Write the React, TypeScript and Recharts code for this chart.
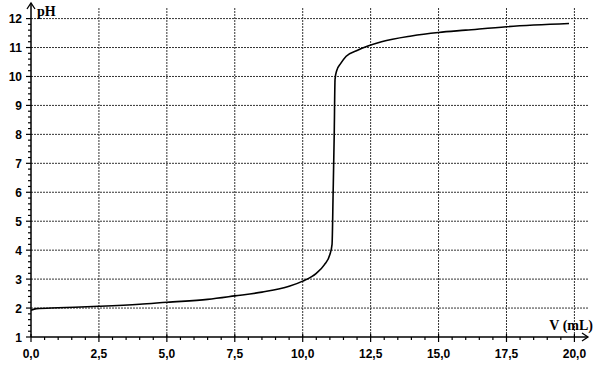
import React from "react"
import { LineChart, Line, XAxis, YAxis, ReferenceLine } from "recharts"

// titration curve
const volume = [0, 0.2, 1, 2.5, 4, 5, 6.5, 7.5, 8.5, 9.5, 10, 10.5, 10.8, 11.0, 11.08, 11.12, 11.16, 11.19, 11.25, 11.4, 11.6, 12.0, 12.4, 12.9, 14.0, 15.0, 16.0, 17.5, 19.8]
const ph = [1.92, 1.98, 2.01, 2.06, 2.13, 2.2, 2.3, 2.42, 2.55, 2.75, 2.93, 3.2, 3.5, 3.85, 4.2, 6.0, 8.0, 9.9, 10.2, 10.45, 10.7, 10.9, 11.05, 11.2, 11.4, 11.52, 11.6, 11.72, 11.83]

const xMajor = [0, 2.5, 5, 7.5, 10, 12.5, 15, 17.5, 20]
const yMajor = [1, 2, 3, 4, 5, 6, 7, 8, 9, 10, 11, 12]
const X_END = 20.5
const Y_END = 12.4

const xTicks = [...Array.from({ length: 41 }, (_, i) => i / 2), X_END]
const yTicks = [...Array.from({ length: 56 }, (_, i) => (10 + 2 * i) / 10), Y_END]

const data = volume.map((v, i) => ({ v, ph: ph[i] }))

const labelFont = { fontFamily: "Liberation Sans, Arial, sans-serif", fontSize: 12, fontWeight: 700, fill: "#000" }
const titleFont = { fontFamily: "Liberation Serif, Times New Roman, serif", fontSize: 14, fontWeight: 700, fill: "#000" }

const fmt = (n: number) => n.toFixed(1).replace(".", ",")

const XTick = (props: any) => {
  const { x, y, payload } = props
  const v = payload.value
  if (v === X_END) {
    return (
      <g>
        <path d={`M${x - 6},${y - 4} L${x},${y} L${x - 6},${y + 4}`} stroke="#000" strokeWidth={1.3} fill="none" />
        <text x={x + 5} y={y - 7} textAnchor="end" style={titleFont}>V (mL)</text>
      </g>
    )
  }
  const major = xMajor.includes(v)
  return (
    <g>
      <line x1={x} x2={x} y1={major ? y - 3 : y} y2={y + (major ? 5 : 3)} stroke="#000" strokeWidth={1.2} />
      {major && <text x={x} y={y + 21} textAnchor="middle" style={labelFont}>{fmt(v)}</text>}
    </g>
  )
}

const YTick = (props: any) => {
  const { x, y, payload } = props
  const v = payload.value
  if (v === Y_END) {
    return (
      <g>
        <line x1={x} x2={x} y1={y} y2={y - 4} stroke="#000" strokeWidth={1.5} />
        <path d={`M${x - 4},${y + 2} L${x},${y - 4} L${x + 4},${y + 2}`} stroke="#000" strokeWidth={1.3} fill="none" />
        <text x={x + 6} y={y + 9} style={titleFont}>pH</text>
      </g>
    )
  }
  const major = Number.isInteger(v)
  return (
    <g>
      <line x1={x - (major ? 5 : 3)} x2={x} y1={y} y2={y} stroke="#000" strokeWidth={1.2} />
      {major && <text x={x - 9} y={y + 4.5} textAnchor="end" style={labelFont}>{v}</text>}
    </g>
  )
}

export default function App() {
  return (
    <div style={{ background: "#fff", width: 599, height: 366 }}>
      <style>{"body{margin:0}"}</style>
      <LineChart width={599} height={366} data={data} margin={{ top: 7, right: 11, left: 0, bottom: 0 }}>
        {xMajor.slice(1).map((v) => (
          <ReferenceLine key={"x" + v} x={v} stroke="#333" strokeDasharray="2 1" strokeWidth={1} />
        ))}
        {yMajor.slice(1).map((v) => (
          <ReferenceLine key={"y" + v} y={v} stroke="#333" strokeDasharray="2 1" strokeWidth={1} />
        ))}
        <XAxis
          dataKey="v"
          type="number"
          domain={[0, X_END]}
          ticks={xTicks}
          interval={0}
          tickSize={0}
          tickMargin={0}
          tickLine={false}
          height={29}
          axisLine={{ stroke: "#000", strokeWidth: 1.5 }}
          tick={<XTick />}
          allowDataOverflow
        />
        <YAxis
          type="number"
          domain={[1, Y_END]}
          ticks={yTicks}
          interval={0}
          tickSize={0}
          tickMargin={0}
          tickLine={false}
          width={31}
          axisLine={{ stroke: "#000", strokeWidth: 1.5 }}
          tick={<YTick />}
          allowDataOverflow
        />
        <Line
          dataKey="ph"
          type="monotone"
          stroke="#000"
          strokeWidth={1.6}
          dot={false}
          isAnimationActive={false}
        />
      </LineChart>
    </div>
  )
}
